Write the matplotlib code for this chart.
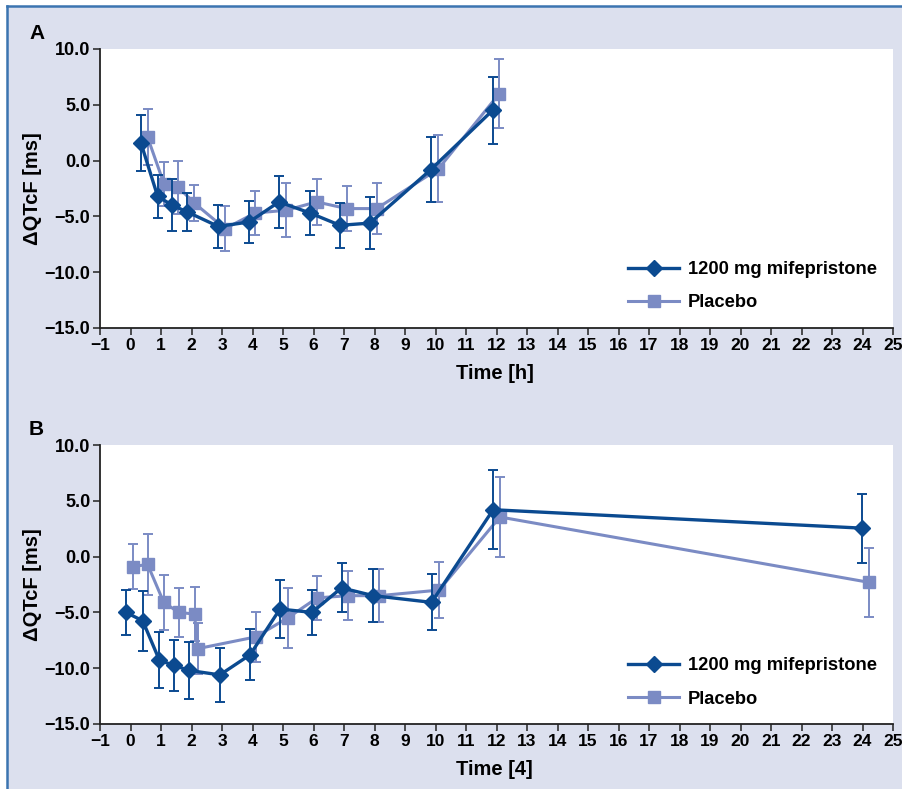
import matplotlib
matplotlib.use("Agg")
import matplotlib.pyplot as plt
from matplotlib.patches import Rectangle
from matplotlib.lines import Line2D

plt.rcParams["font.family"] = ["Liberation Sans", "DejaVu Sans"]
plt.rcParams["font.weight"] = "bold"
plt.rcParams["axes.unicode_minus"] = True

# ---------------------------------------------------------------------------
# Data
# ---------------------------------------------------------------------------
# Panel A
a_mif_t = [0.34, 0.89, 1.37, 1.86, 2.88, 3.89, 4.87, 5.89, 6.87, 7.85, 9.85, 11.87]
a_mif_y = [1.6, -3.2, -4.0, -4.6, -5.9, -5.5, -3.7, -4.7, -5.8, -5.6, -0.8, 4.5]
a_mif_e = [2.5, 1.95, 2.35, 1.7, 1.95, 1.9, 2.3, 2.0, 2.0, 2.3, 2.95, 3.0]

a_pla_t = [0.56, 1.10, 1.57, 2.09, 3.10, 4.08, 5.10, 6.10, 7.09, 8.07, 10.09, 12.09]
a_pla_y = [2.1, -2.1, -2.4, -3.8, -6.1, -4.7, -4.45, -3.7, -4.3, -4.3, -0.75, 6.0]
a_pla_e = [2.5, 1.95, 2.4, 1.6, 2.0, 2.0, 2.4, 2.05, 2.0, 2.3, 3.0, 3.1]

# Panel B
b_mif_t = [-0.15, 0.40, 0.95, 1.43, 1.92, 2.93, 3.92, 4.90, 5.95, 6.92, 7.96, 9.87, 11.89, 23.98]
b_mif_y = [-5.0, -5.75, -9.3, -9.75, -10.2, -10.6, -8.8, -4.7, -5.0, -2.8, -3.5, -4.1, 4.2, 2.55]
b_mif_e = [2.0, 2.7, 2.5, 2.25, 2.55, 2.4, 2.3, 2.6, 2.0, 2.2, 2.4, 2.5, 3.55, 3.1]

b_pla_t = [0.09, 0.56, 1.09, 1.58, 2.10, 2.20, 4.10, 5.15, 6.12, 7.14, 8.16, 10.12, 12.11, 24.2]
b_pla_y = [-0.9, -0.7, -4.1, -5.0, -5.15, -8.25, -7.2, -5.5, -3.7, -3.5, -3.5, -3.0, 3.55, -2.3]
b_pla_e = [2.0, 2.75, 2.45, 2.2, 2.45, 2.3, 2.25, 2.65, 1.95, 2.2, 2.4, 2.5, 3.6, 3.1]

labels = ["1200 mg mifepristone", "Placebo"]
y_ticks = [-15, -10, -5, 0, 5, 10]
x_ticks = list(range(-1, 26))

MIF = "#0B4A90"
PLA = "#7B8BC4"
BG = "#DCE0EE"
BORDER = "#3B74B0"


def fmt(v, dec):
    s = f"{abs(v):.{dec}f}"
    return ("\u2212" + s) if v < 0 else s


fig = plt.figure(figsize=(9.03, 7.89), dpi=100, facecolor="white")
fig.patches.append(Rectangle((7 / 903, 0), 1, 1 - 6 / 789, transform=fig.transFigure,
                             facecolor=BG, edgecolor="none", zorder=-10))
fig.add_artist(Line2D([7 / 903, 7 / 903], [0, 1 - 6 / 789], transform=fig.transFigure,
                      color=BORDER, lw=1.8))
fig.add_artist(Line2D([7 / 903, 1], [1 - 6 / 789, 1 - 6 / 789], transform=fig.transFigure,
                      color=BORDER, lw=1.8))

ax_a = fig.add_axes([100 / 903, 1 - 328 / 789, 793 / 903, 279 / 789])
ax_b = fig.add_axes([100 / 903, 1 - 724 / 789, 793 / 903, 279 / 789])

panels = [
    (ax_a, (a_mif_t, a_mif_y, a_mif_e), (a_pla_t, a_pla_y, a_pla_e), "Time [h]", "A"),
    (ax_b, (b_mif_t, b_mif_y, b_mif_e), (b_pla_t, b_pla_y, b_pla_e), "Time [4]", "B"),
]

legend_handles = [
    Line2D([0], [0], color=MIF, lw=2.4, marker="D", ms=8.5, mfc=MIF, mec=MIF),
    Line2D([0], [0], color=PLA, lw=2.2, marker="s", ms=9, mfc=PLA, mec=PLA),
]

for ax, mif, pla, xlab, tag in panels:
    ax.set_facecolor("white")
    ax.errorbar(pla[0], pla[1], yerr=pla[2], color=PLA, lw=2.2, marker="s", ms=9,
                mec=PLA, mfc=PLA, elinewidth=1.4, capsize=3.5, capthick=1.4, zorder=3)
    ax.errorbar(mif[0], mif[1], yerr=mif[2], color=MIF, lw=2.4, marker="D", ms=8.5,
                mec=MIF, mfc=MIF, elinewidth=1.4, capsize=3.5, capthick=1.4, zorder=4)

    ax.set_xlim(-1, 25)
    ax.set_ylim(-15, 10)
    ax.set_xticks(x_ticks)
    ax.set_xticklabels([fmt(t, 0) for t in x_ticks], fontsize=12.5, fontweight="bold")
    ax.set_yticks(y_ticks)
    ax.set_yticklabels([fmt(t, 1) for t in y_ticks], fontsize=13, fontweight="bold")
    ax.tick_params(direction="out", length=5, width=1.1, color="#222222", pad=2)
    for sp in ("top", "right"):
        ax.spines[sp].set_visible(False)
    for sp in ("left", "bottom"):
        ax.spines[sp].set_linewidth(1.3)
        ax.spines[sp].set_color("#222222")

    ax.set_xlabel(xlab, fontsize=14.5, fontweight="bold")
    ax.xaxis.set_label_coords(0.4975, -0.128)
    ax.set_ylabel("\u0394QTcF [ms]", fontsize=14.5, fontweight="bold")
    ax.yaxis.set_label_coords(-0.073, 0.5)
    ax.text(-0.0895, 1.056, tag, transform=ax.transAxes, fontsize=15, fontweight="bold",
            ha="left", va="center")

    ax.legend(legend_handles, labels, loc="lower right", bbox_to_anchor=(1.0, 0.0),
              frameon=False, fontsize=13.2, handlelength=2.8, handletextpad=0.45,
              labelspacing=0.9, borderaxespad=0.5)

fig.savefig("out.png", dpi=100, facecolor=fig.get_facecolor())
